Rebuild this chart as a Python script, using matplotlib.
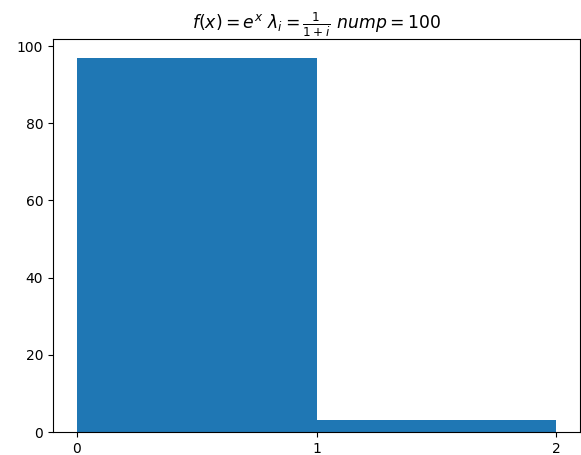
import numpy as np
import matplotlib
matplotlib.use("Agg")
import matplotlib.pyplot as plt

# histogram bin edges and counts
bin_edges = [0, 1, 2]
counts = [97, 3]
xticks = [0, 1, 2]

fig = plt.figure(figsize=(5.81, 4.55), dpi=100)
ax = fig.add_subplot(111)
fig.subplots_adjust(left=53/581, right=580/581, top=1-39/455, bottom=1-432/455)

ax.bar(bin_edges[:-1], counts, width=np.diff(bin_edges), align='edge', color='#1f77b4')
ax.set_xticks(xticks)
ax.set_title(r'$f(x)=e^x\ \lambda_i=\frac{1}{1+i}\ nump=100$', fontsize=12.4)

plt.savefig('out.png', dpi=100)
plt.close()
